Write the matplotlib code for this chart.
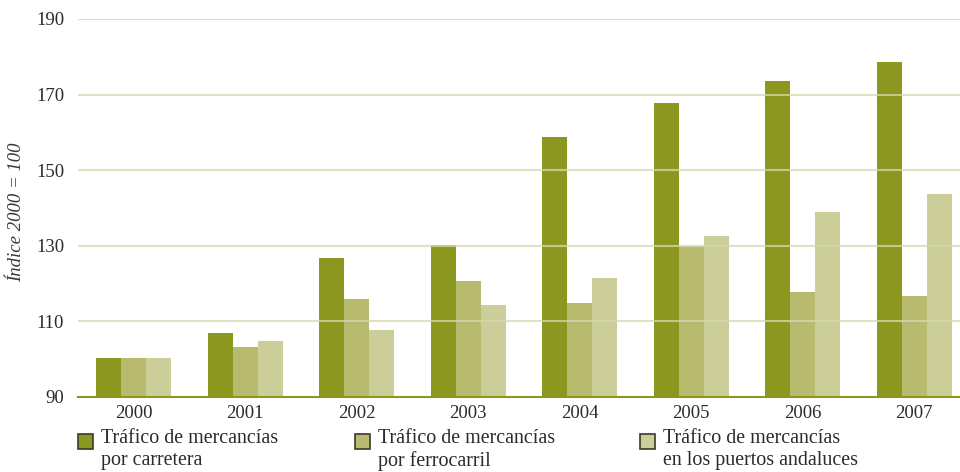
import matplotlib
matplotlib.use("Agg")
import matplotlib.pyplot as plt
from matplotlib.patches import Rectangle
import numpy as np

years = ["2000", "2001", "2002", "2003", "2004", "2005", "2006", "2007"]
carretera = [100.3, 107.0, 126.7, 130.2, 158.7, 167.8, 173.6, 178.6]
ferrocarril = [100.3, 103.2, 115.9, 120.7, 114.9, 130.0, 117.8, 116.7]
puertos = [100.3, 104.8, 107.7, 114.3, 121.5, 132.6, 138.9, 143.7]
labels = ["Tráfico de mercancías\npor carretera",
          "Tráfico de mercancías\npor ferrocarril",
          "Tráfico de mercancías\nen los puertos andaluces"]
colors = ["#8b971e", "#b8ba70", "#cbce98"]
yticks = [90, 110, 130, 150, 170, 190]

serif = ["Liberation Serif", "DejaVu Serif"]
txt = "#2b2b2b"

fig = plt.figure(figsize=(9.6, 4.72), dpi=100)
ax = fig.add_axes([78/960, 75/472, 1 - 78/960, (397-19)/472])

x = np.arange(len(years))
w = 0.225
for i, (vals, c) in enumerate(zip([carretera, ferrocarril, puertos], colors)):
    ax.bar(x + (i - 1) * w, np.array(vals) - 90, bottom=90, width=w, color=c, zorder=2, linewidth=0)

ax.set_ylim(90, 190)
ax.set_xlim(-0.5, 7.41)
ax.set_yticks(yticks)
ax.set_yticklabels([str(t) for t in yticks], family=serif, fontsize=13.5, color=txt)
ax.set_xticks(x)
ax.set_xticklabels(years, family=serif, fontsize=13.5, color=txt)
ax.tick_params(axis="y", length=0, pad=10)
ax.tick_params(axis="x", length=0, pad=6)
for yt in yticks[1:]:
    ax.axhline(yt, color="#d5d9ad", alpha=0.75, lw=1.5, zorder=3)
for s in ["top", "right", "left"]:
    ax.spines[s].set_visible(False)
ax.spines["bottom"].set_color("#8b971e")
ax.spines["bottom"].set_linewidth(1.5)
ax.spines["bottom"].set_zorder(4)

fig.text(17/960, 1 - 212/472, "Índice 2000 = 100", rotation=90, family=serif, style="italic",
         fontsize=13.5, color="#3a3a3a", ha="center", va="center")

# legend
leg_x = [78, 355, 640]
for lx, lab, c in zip(leg_x, labels, colors):
    fig.patches.append(Rectangle((lx/960, 1 - 449/472), 15/960, 15/472, transform=fig.transFigure,
                                 facecolor=c, edgecolor="#3a3a2a", linewidth=1.2))
    fig.text((lx + 23)/960, 1 - 429/472, lab, family=serif, fontsize=14.4, color=txt,
             ha="left", va="top", linespacing=1.22)

fig.savefig("out.png", dpi=100)
